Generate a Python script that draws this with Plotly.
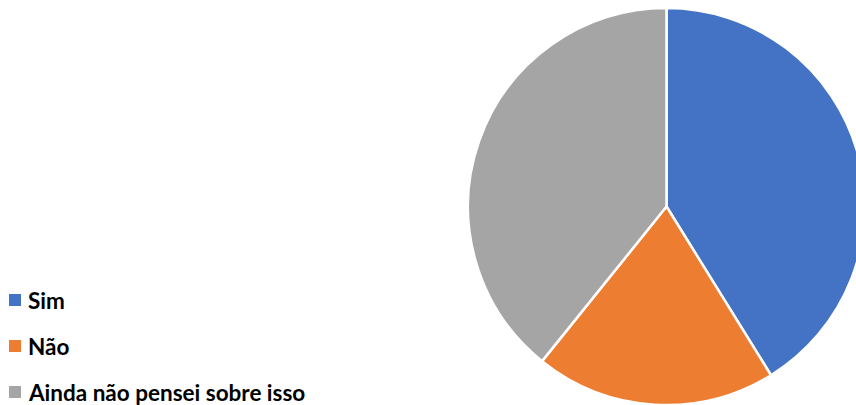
import plotly.graph_objects as go

# Survey answers and their counts
labels = ["Sim", "Não", "Ainda não pensei sobre isso"]
values = [21, 10, 20]
colors = ["#4472C4", "#ED7D31", "#A5A5A5"]

FIG_W, FIG_H = 866, 405

fig = go.Figure(
    go.Pie(
        labels=labels,
        values=values,
        sort=False,
        direction="clockwise",
        rotation=0,
        marker=dict(colors=colors, line=dict(color="white", width=2.5)),
        textinfo="none",
        hoverinfo="label+value+percent",
        showlegend=False,
        domain=dict(x=[468 / FIG_W, 865 / FIG_W], y=[0, 397 / FIG_H]),
    )
)

# Legend drawn at the left, one row per answer
row_y = [300, 346, 392]
shapes = []
annotations = []
for lab, col, yy in zip(labels, colors, row_y):
    shapes.append(dict(
        type="rect", xref="paper", yref="paper",
        x0=9 / FIG_W, x1=21 / FIG_W,
        y0=(FIG_H - yy - 6) / FIG_H, y1=(FIG_H - yy + 6) / FIG_H,
        fillcolor=col, line=dict(width=0),
    ))
    annotations.append(dict(
        text=f"<b>{lab}</b>", xref="paper", yref="paper",
        x=26 / FIG_W, y=(FIG_H - yy) / FIG_H,
        xanchor="left", yanchor="middle", showarrow=False,
        font=dict(family="Lato", size=22.5, color="#000000"),
    ))

fig.update_layout(
    width=FIG_W,
    height=FIG_H,
    margin=dict(l=0, r=0, t=0, b=0),
    paper_bgcolor="white",
    plot_bgcolor="white",
    shapes=shapes,
    annotations=annotations,
)

fig.write_html(
    "out.html",
    post_script="document.documentElement.style.overflow='hidden';document.body.style.overflow='hidden';",
)
